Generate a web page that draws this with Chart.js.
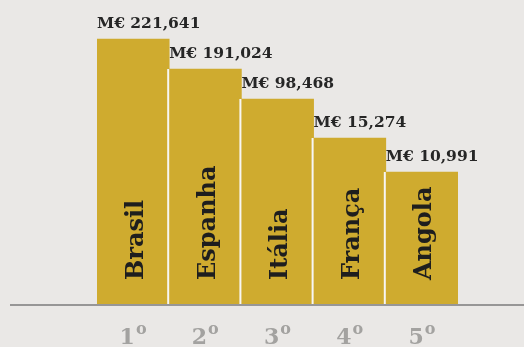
<!DOCTYPE html>
<html>
<head>
<meta charset="utf-8">
<script src="https://cdn.jsdelivr.net/npm/chart.js@4.4.1/dist/chart.umd.min.js"></script>
<style>
  html, body { margin: 0; padding: 0; background: #eae8e6; }
  canvas { display: block; }
</style>
</head>
<body>
<canvas id="rank-chart" width="524" height="347"></canvas>
<script>
// values
var countries = ["Brasil", "Espanha", "Itália", "França", "Angola"];
var amountLabels = ["M€ 221,641", "M€ 191,024", "M€ 98,468", "M€ 15,274", "M€ 10,991"];
var barHeights = [265, 235, 205, 166, 132]; // bar heights as drawn (not to scale with amounts)
var ranks = ["1", "2", "3", "4", "5"];

var SERIF = "'DejaVu Serif', Georgia, serif";

var labelsPlugin = {
    id: "rankLabels",
    afterDatasetsDraw: function (chart) {
        var ctx = chart.ctx;
        var meta = chart.getDatasetMeta(0);
        var xs = chart.scales.x;
        var ys = chart.scales.y;
        var base = ys.getPixelForValue(0);

        // thin light gaps between bars
        ctx.save();
        ctx.fillStyle = "#f7f6f4";
        meta.data.forEach(function (bar, i) {
            if (i === 0) return;
            var left = bar.x - bar.width / 2;
            var prev = meta.data[i - 1];
            var top = Math.max(bar.y, prev.y);
            ctx.fillRect(left - 2, top, 2, base - top);
        });
        ctx.restore();

        // baseline rule across the page
        ctx.save();
        ctx.fillStyle = "rgba(115,115,115,0.7)";
        ctx.fillRect(10, base, chart.width - 10, 2);
        ctx.restore();

        meta.data.forEach(function (bar, i) {
            var left = bar.x - bar.width / 2;
            // amount above the bar
            ctx.save();
            ctx.fillStyle = "#262626";
            ctx.font = "bold 15.5px " + SERIF;
            ctx.textAlign = "left";
            ctx.textBaseline = "alphabetic";
            ctx.fillText(amountLabels[i], left, bar.y - 11);
            ctx.restore();

            // country name, rotated inside the bar
            ctx.save();
            ctx.translate(bar.x + 9.5, base - 24);
            ctx.rotate(-Math.PI / 2);
            ctx.fillStyle = "#1e1e1e";
            ctx.font = "bold 24px " + SERIF;
            ctx.textAlign = "left";
            ctx.textBaseline = "alphabetic";
            ctx.fillText(countries[i], 0, 0);
            ctx.restore();

            // rank below the axis
            var cx = xs.getPixelForValue(i);
            ctx.save();
            ctx.fillStyle = "#a3a2a0";
            ctx.font = "bold 22px " + SERIF;
            var dw = ctx.measureText(ranks[i]).width;
            ctx.font = "bold 16px " + SERIF;
            var ow = ctx.measureText("o").width;
            var x0 = cx - (dw + ow + 1) / 2;
            ctx.font = "bold 22px " + SERIF;
            ctx.textBaseline = "alphabetic";
            ctx.fillText(ranks[i], x0, 344);
            ctx.font = "bold 16px " + SERIF;
            ctx.fillText("o", x0 + dw + 1, 334);
            ctx.restore();
        });
    }
};

new Chart(document.getElementById("rank-chart"), {
    type: "bar",
    data: {
        labels: countries,
        datasets: [
            {
                data: barHeights,
                backgroundColor: "#cfab2f",
                borderWidth: 0,
                barPercentage: 1,
                categoryPercentage: 1,
            },
        ],
    },
    options: {
        responsive: false,
        animation: false,
        layout: { padding: { left: 97, right: 66, top: 4, bottom: 43 } },
        scales: {
            x: { display: false },
            y: { display: false, min: 0, max: 300 },
        },
        plugins: {
            legend: { display: false },
            tooltip: { enabled: false },
        },
    },
    plugins: [labelsPlugin],
});
</script>
</body>
</html>
